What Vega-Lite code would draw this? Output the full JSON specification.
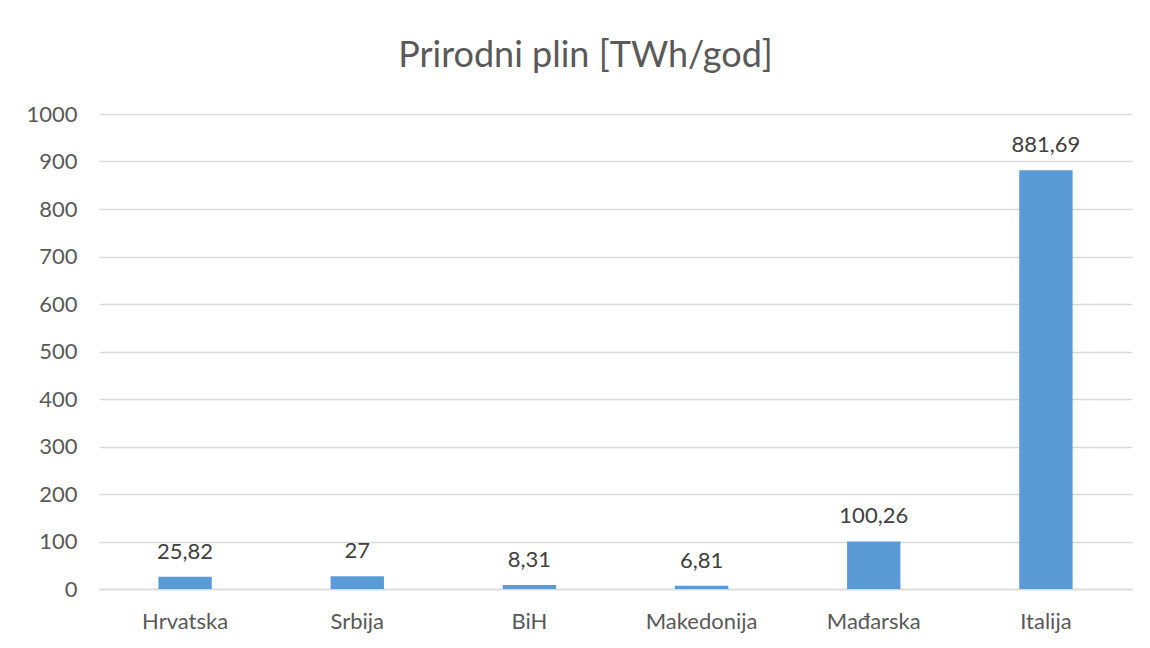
{
  "$schema": "https://vega.github.io/schema/vega-lite/v6.json",
  "width": 1033,
  "height": 475,
  "autosize": {"type": "none"},
  "padding": {"left": 99, "top": 114, "right": 18, "bottom": 59},
  "background": "white",
  "config": {
    "locale": {"number": {"decimal": ",", "thousands": ".", "grouping": [3], "currency": ["", ""]}},
    "view": {"stroke": null},
    "font": "Lato"
  },
  "title": {
    "text": "Prirodni plin [TWh/god]",
    "font": "Lato",
    "fontSize": 36,
    "fontWeight": "normal",
    "color": "#595959",
    "anchor": "middle",
    "baseline": "alphabetic",
    "dx": -30,
    "offset": 0
  },
  "data": {
    "values": [
      {"country": "Hrvatska", "value": 25.82},
      {"country": "Srbija", "value": 27},
      {"country": "BiH", "value": 8.31},
      {"country": "Makedonija", "value": 6.81},
      {"country": "Mađarska", "value": 100.26},
      {"country": "Italija", "value": 881.69}
    ]
  },
  "encoding": {
    "x": {
      "field": "country",
      "type": "nominal",
      "sort": null,
      "title": null,
      "scale": {"paddingInner": 0.69, "paddingOuter": 0.345},
      "axis": {
        "labelAngle": 0,
        "labelFont": "Lato",
        "labelFontSize": 22,
        "labelColor": "#595959",
        "labelPadding": 22,
        "ticks": false,
        "domainColor": "#D9D9D9",
        "domainWidth": 1.5
      }
    },
    "y": {
      "field": "value",
      "type": "quantitative",
      "title": null,
      "scale": {"domain": [0, 1000]},
      "axis": {
        "values": [0, 100, 200, 300, 400, 500, 600, 700, 800, 900, 1000],
        "format": "d",
        "labelFont": "Lato",
        "labelFontSize": 22,
        "labelColor": "#595959",
        "labelPadding": 22,
        "ticks": false,
        "domain": false,
        "gridColor": "#D9D9D9",
        "gridWidth": 1.5
      }
    }
  },
  "layer": [
    {"mark": {"type": "bar", "color": "#5B9BD5"}},
    {
      "mark": {"type": "text", "baseline": "alphabetic", "dy": -18, "font": "Lato", "fontSize": 22, "color": "#404040"},
      "encoding": {"text": {"field": "value", "type": "quantitative", "format": ".6~r"}}
    }
  ]
}
